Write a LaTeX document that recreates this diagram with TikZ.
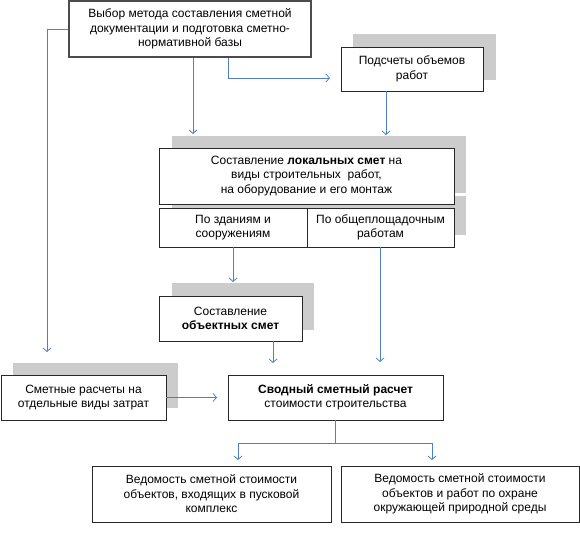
\documentclass[tikz,border=0pt]{standalone}
\usepackage{fontspec}
\setmainfont{Liberation Sans}
\usetikzlibrary{arrows.meta,calc}
\definecolor{arrblue}{RGB}{79,129,189}
\definecolor{shadowgray}{RGB}{204,204,204}
\definecolor{boxline}{RGB}{40,40,40}
\begin{document}
\begin{tikzpicture}[x=1pt,y=-1pt,
  box/.style={draw=boxline,line width=0.9pt,fill=white,inner sep=0pt,align=center,
    font=\fontsize{12}{14.5}\selectfont},
  shade/.style={fill=shadowgray,draw=none},
  arr/.style={draw=arrblue,line width=0.8pt,-{Straight Barb[length=3.5pt,width=8pt]}},
  ln/.style={draw=arrblue,line width=0.8pt}]
\useasboundingbox (0,0) rectangle (580,534);
% shadows
\fill[shade] (353,34) rectangle (496,80);
\fill[shade] (172,136) rectangle (466,193);
\fill[shade] (172,196) rectangle (466,235);
\fill[shade] (172,283) rectangle (314,330);
\fill[shade] (13,363) rectangle (178,408);
% boxes
\node[box,line width=1.6pt,draw=gray!60!black,minimum width=242pt,minimum height=56pt] (top) at (190,29)
  {Выбор метода составления сметной\\документации и подготовка сметно-\\нормативной базы};
\node[box,minimum width=142pt,minimum height=44pt] (pod) at (412,69) {Подсчеты объемов\\работ};
\node[box,minimum width=295pt,minimum height=56pt] (loc) at (306.5,176)
  {Составление \textbf{локальных смет} на\\виды строительных\ \ работ,\\на оборудование и его монтаж};
\node[box,minimum width=148pt,minimum height=39pt] (subL) at (233,227.5) {По зданиям и\\сооружениям};
\node[box,minimum width=147pt,minimum height=39pt] (subR) at (380.5,227.5) {По общеплощадочным\\работам};
\node[box,minimum width=143pt,minimum height=45pt] (obj) at (230.5,318.5) {Составление\\\textbf{объектных смет}};
\node[box,minimum width=165pt,minimum height=45pt] (smet) at (83.5,397.5) {Сметные расчеты на\\отдельные виды затрат};
\node[box,minimum width=215pt,minimum height=45pt] (svod) at (335.5,397.5) {\textbf{Сводный сметный расчет}\\стоимости строительства};
\node[box,minimum width=239pt,minimum height=56pt] (bL) at (211.5,494) {Ведомость сметной стоимости\\объектов, входящих в пусковой\\комплекс};
\node[box,minimum width=238pt,minimum height=56pt] (bR) at (460,494) {Ведомость сметной стоимости\\объектов и работ по охране\\окружающей природной среды};
% end coordinates
\coordinate (eL) at (47,352);
\coordinate (eTop) at (193,134);
\coordinate (eR) at (330,78);
\coordinate (ePod) at (386,135);
\coordinate (eSubL) at (233,282);
\coordinate (eSubR) at (380,362);
\coordinate (eObj) at (273,363);
\coordinate (eSmet) at (217,397.5);
\coordinate (br) at (335,443);
\coordinate (ebL) at (238,460);
\coordinate (ebR) at (432,460);
% connectors
\draw[arr] (top.west |- 0,29) -| (eL);
\draw[arr] (top.south -| eTop) -- (eTop);
\draw[arr] (top.south -| 228,0) |- (eR);
\draw[arr] (pod.south -| ePod) -- (ePod);
\draw[arr] (subL.south -| eSubL) -- (eSubL);
\draw[arr] (subR.south -| eSubR) -- (eSubR);
\draw[arr] (obj.south -| eObj) -- (eObj);
\draw[arr] (smet.east) -- (eSmet);
\draw[ln] (svod.south -| br) -- (br);
\draw[arr] (br) -| (ebL);
\draw[arr] (br) -| (ebR);
\end{tikzpicture}
\end{document}
